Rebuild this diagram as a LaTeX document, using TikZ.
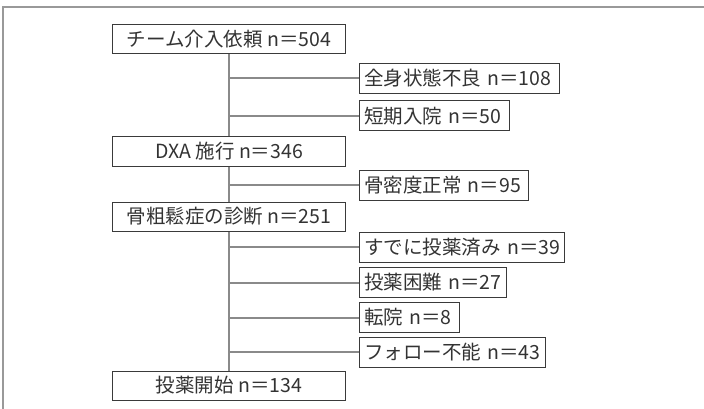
\documentclass[tikz,border=0pt]{standalone}
\usepackage{fontspec}
\setmainfont{Noto Sans CJK JP}
\definecolor{txtc}{HTML}{333333}
\definecolor{boxc}{HTML}{3A3A3A}
\definecolor{connc}{HTML}{8A8A8A}
\definecolor{framec}{HTML}{999999}
\begin{document}
\begin{tikzpicture}[x=1pt,y=-1pt,
  every node/.style={text=txtc, font=\fontsize{19.5}{22}\selectfont},
  mainbox/.style={draw=boxc, line width=1pt, minimum width=233pt, minimum height=29pt, inner sep=0pt, fill=white},
  sidebox/.style={draw=boxc, line width=1pt, minimum height=30pt, inner ysep=0pt, inner xsep=5pt, align=left, anchor=west, text width=#1},
  conn/.style={draw=connc, line width=2pt},
  frameline/.style={draw=framec, line width=1.5pt}]
\useasboundingbox (0,0) rectangle (704,409);
\draw[frameline] (3,409) -- (3,7) -- (704,7);
\node[mainbox] (m1) at (229,39.5) {チーム介入依頼 n＝504};
\node[mainbox] (m2) at (229,151.5) {DXA 施行 n＝346};
\node[mainbox] (m3) at (229,216.5) {骨粗鬆症の診断 n＝251};
\node[mainbox] (m4) at (229,385.5) {投薬開始 n＝134};
\node[sidebox=190pt] (s1) at (358.5,78.5) {\mbox{全身状態不良 n＝108}};
\node[sidebox=140.5pt] (s2) at (358.5,116) {\mbox{短期入院 n＝50}};
\node[sidebox=159pt] (s3) at (358.5,185) {\mbox{骨密度正常 n＝95}};
\node[sidebox=195pt] (s4) at (358.5,247) {\mbox{すでに投薬済み n＝39}};
\node[sidebox=137.5pt] (s5) at (358.5,282.5) {\mbox{投薬困難 n＝27}};
\node[sidebox=90pt] (s6) at (358.5,317.5) {\mbox{転院 n＝8}};
\node[sidebox=176pt] (s7) at (358.5,352) {\mbox{フォロー不能 n＝43}};
\draw[conn] (m1.south) -- (m2.north);
\draw[conn] (m2.south) -- (m3.north);
\draw[conn] (m3.south) -- (m4.north);
\draw[conn] (s1.west) -- (s1.west -| m1.south);
\draw[conn] (s2.west) -- (s2.west -| m1.south);
\draw[conn] (s3.west) -- (s3.west -| m2.south);
\draw[conn] (s4.west) -- (s4.west -| m3.south);
\draw[conn] (s5.west) -- (s5.west -| m3.south);
\draw[conn] (s6.west) -- (s6.west -| m3.south);
\draw[conn] (s7.west) -- (s7.west -| m3.south);
\end{tikzpicture}
\end{document}
